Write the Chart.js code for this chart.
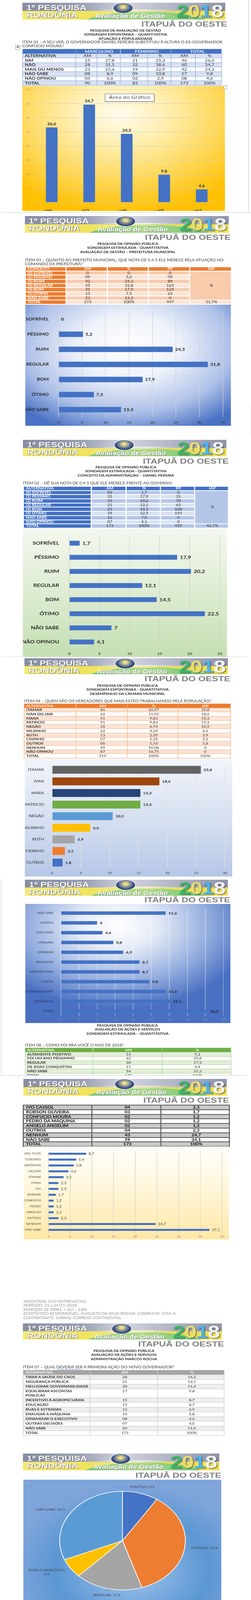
<!DOCTYPE html>
<html lang="pt-BR">
<head>
<meta charset="utf-8">
<title>1ª Pesquisa Rondônia 2018 – Itapuã do Oeste</title>
<script src="https://cdn.jsdelivr.net/npm/chart.js@4.4.1/dist/chart.umd.min.js"></script>
<style>
  html, body { margin: 0; padding: 0; background: #fff; }
  body { width: 642px; height: 4310px; overflow: hidden; position: relative; }
  #page { position: absolute; left: 0; top: 0; height: 4310px; transform-origin: 0 0;
          font-family: Lato, "Noto Sans", sans-serif; color: #262626; }
  #page > div { position: absolute; }
  .banner { overflow: hidden; }
  .banner div { position: absolute; }
  .bn-top { left: 0; right: 0; top: 0; height: 50%;
            background: linear-gradient(90deg, #868da4 0%, #9ba1b6 30%, #d3d5df 50%, #b4b8c8 72%, #8f94a9 100%); }
  .bn-bot { left: 0; right: 0; bottom: 0; height: 51%;
            background: linear-gradient(90deg, #f4ea6e 0%, #efe35c 32%, #eee78a 48%, #e8e05a 70%, #f1e152 100%); }
  .bn-hill { left: 30%; width: 62%; top: 23px; height: 60px; border-radius: 50%;
             background: radial-gradient(ellipse at 45% 20%, #b4dd8e 0%, #84c97c 45%, #62b870 100%); }
  .bn-streak { height: 2px; background: linear-gradient(90deg, rgba(255,255,255,0), #fff 35%, #fff 65%, rgba(255,255,255,0)); }
  .bn-emblem { left: calc(49.6% - 19px); top: 1px; width: 38px; height: 25px; border-radius: 50%;
               background: radial-gradient(ellipse at 50% 40%, #f5f2dc 0%, #cbbf6e 22%, #5670a8 48%, #2c3658 72%, #9097ae 100%);
               box-shadow: 0 0 2px 1px rgba(255,255,255,.8); }
  .bn-t1, .bn-t2 { left: 2%; font: bold 19px/21px "Liberation Sans", Arial, sans-serif; color: #fbfbfb;
                   text-shadow: 1px 1px 0 #666, -0.5px -0.5px 0 #888; white-space: nowrap; }
  .bn-t1 { top: 2px; }
  .bn-t2 { top: 21px; }
  .bn-t3 { left: 35.8%; top: 26px; font: bold 14.5px/16px "Liberation Sans", Arial, sans-serif; color: #fff;
           text-shadow: 1px 1px 1px #7a7a7a; white-space: nowrap; }
  .bn-year { right: 1.3%; top: 0; font: bold 44px/44px "Liberation Sans", Arial, sans-serif; letter-spacing: -1px;
             text-shadow: 2px 2px 2px rgba(50,50,50,.55); white-space: nowrap; }
  .y2 { color: #3cb868; } .y0 { color: #e6dd74; } .y1 { color: #4db3ea; } .y8 { color: #f3f3f3; }
  .city { font: bold 19px/19px "Liberation Sans", Arial, sans-serif; color: #808080; text-align: right; white-space: nowrap; }
  .title { font: bold 8px/10.5px Lato, sans-serif; color: #1a1a1a; text-align: center; white-space: nowrap; }
  .item { font: 8.6px/9.8px Lato, sans-serif; color: #333; white-space: nowrap; }
  .note { font: 8.5px/10.5px Lato, sans-serif; color: #8c8c8c; white-space: nowrap; }
  .sp { text-decoration: underline wavy #3d6fd6; text-decoration-thickness: 0.6px; text-underline-offset: 1px; }
  .tbl { border-collapse: collapse; table-layout: fixed; }
  .tbl td { padding: 0 0 0 4px; white-space: nowrap; overflow: hidden; line-height: 1; vertical-align: middle; }
  .tip { background: #fff; border: 1px solid #7f7f7f; box-shadow: 1px 1px 2px rgba(0,0,0,.35);
         font: 11.5px/16px "Open Sans", sans-serif; color: #3c3c3c; text-align: center; }
  .handle { background: #fff; border: 1px solid #9a9a9a; }
  .move { background: #fff; border: 1px solid #a0a0a0; font: 8px/9px "DejaVu Sans", sans-serif; color: #555; text-align: center; }
</style>
</head>
<body>
<div id="page"></div>
<script>
// ---------- data ----------
// ITEM 01
const item01Alternativas = ["SIM", "NÃO", "MAIS OU MENOS", "NÃO SABE", "NÃO OPINOU", "TOTAL"];
const item01MascAM = ["25", "28", "23", "08", "06", "90"];
const item01MascPct = ["27,8", "31,1", "25,6", "8,9", "6,6", "100%"];
const item01FemAM = ["21", "32", "19", "09", "02", "83"];
const item01FemPct = ["25,3", "38,6", "22,9", "10,8", "2,4", "100%"];
const item01TotAM = ["46", "60", "42", "17", "08", "173"];
const item01TotPct = ["26,6", "34,7", "24,3", "9,8", "4,6", "100%"];
const item01Values = [26.6, 34.7, 24.3, 9.8, 4.6];

// ITEM 03 - prefeito
const item03Conceitos = ["(0) SOFRÍVEL", "(1) PÉSSIMO", "(2) RUIM", "(3) REGULAR", "(4) BOM", "(5) ÓTIMO", "NÃO SABE", "TOTAL"];
const item03AM = ["0", "09", "42", "55", "31", "13", "23", "173"];
const item03Pct = ["0", "5,2", "24,3", "31,8", "17,9", "7,5", "13,3", "100%"];
const item03PP = ["0", "09", "84", "165", "124", "65", "0", "447"];
const item03IAP = "51,7%";
const item03Labels = ["SOFRÍVEL", "PÉSSIMO", "RUIM", "REGULAR", "BOM", "ÓTIMO", "NÃO SABE"];
const item03Values = [0, 5.2, 24.3, 31.8, 17.9, 7.5, 13.3];

// ITEM 02 - governo
const item02Alternativas = ["(0) SOFRÍVEL", "(1) PÉSSIMO", "(2) RUIM", "(3) REGULAR", "(4) BOM", "(5) ÓTIMO", "NÃO SABE", "NÃO OPINOU", "TOTAL"];
const item02AM = ["03", "31", "35", "21", "25", "39", "12", "07", "173"];
const item02Pct = ["1,7", "17,9", "20,2", "12,1", "14,5", "22,5", "7,0", "4,1", "100%"];
const item02PP = ["0", "31", "70", "63", "100", "195", "0", "0", "459"];
const item02IAP = "42,7%";
const item02Labels = ["SOFRÍVEL", "PÉSSIMO", "RUIM", "REGULAR", "BOM", "ÓTIMO", "NÃO SABE", "NÃO OPINOU"];
const item02Values = [1.7, 17.9, 20.2, 12.1, 14.5, 22.5, 7, 4.1];

// ITEM 04 - vereadores
const item04Alternativas = ["ITAMAR", "IVAN DO JAIR", "MARA", "PATRICIO", "NEGÃO", "NILSINHO", "RUTH", "CIDINHO", "OUTROS", "NENHUM", "NÃO OPINOU", "TOTAL"];
const item04AM = ["86", "62", "51", "51", "35", "22", "13", "07", "06", "99", "87", "519"];
const item04Pct = ["16,57", "11,95", "9,83", "9,83", "6,74", "4,24", "2,50", "1,35", "1,16", "19,08", "16,75", "100%"];
const item04IAP = ["25,8", "18,6", "15,3", "15,3", "10,5", "6,6", "3,9", "2,2", "1,8", "0", "0", "100%"];
const item04Labels = ["ITAMAR", "IVAN", "MARA", "PATRICIO", "NEGÃO", "NILSINHO", "RUTH", "CIDINHO", "OUTROS"];
const item04Values = [25.8, 18.6, 15.3, 15.3, 10.5, 6.6, 3.9, 2.2, 1.8];

// primeira ação (gráfico)
const acoesLabels = ["NÃO SABE", "OUTROS", "EXECUTIVO", "MÁQUINA", "ESTRADAS", "EDUCAÇÃO", "AGROPECUÁRIA", "CONTAS", "GOVERNABILIDADE", "SEGURANÇA", "SAÚDE"];
const acoesValues = [11.6, 4, 4.6, 5.8, 6.9, 8.7, 8.7, 9.8, 11.6, 12.1, 16.2];

// ITEM 08 - ano de 2018
const item08Alternativas = ["ALTAMENTE POSITIVO", "FOI UM ANO PÉSSIMMO", "REGULAR", "DE BOAS CONQUISTAS", "NÃO SABE", "TOTAL"];
const item08AM = ["16", "62", "30", "11", "54", "173"];
const item08Pct = ["9,2", "35,8", "17,3", "6,4", "31,3", "100%"];

// candidatos (continuação)
const candAlternativas = ["IVO CASSOL", "ROBSON OLIVEIRA", "CONFÚCIO MOURA", "PEDRO DA MÁQUINA", "ANGELO ANGELIM", "OUTROS", "NENHUM", "NÃO SABE", "TOTAL"];
const candAM = ["04", "03", "02", "02", "02", "04", "43", "59", "173"];
const candPct = ["2,3", "1,7", "1,2", "1,2", "1,2", "2,3", "24,7", "34,1", "100%"];

// políticos (gráfico)
const politicosLabels = ["JOÃO TESTA", "TEIXEIRÃO", "JERÔNIMO", "HELENA", "ITAMAR", "PIANA", "IVO", "ROBSON", "CONFÚCIO", "PEDRO", "ANGELIM", "OUTROS", "NENHUM", "NÃO SABE"];
const politicosValues = [8.7, 6.4, 5.8, 4.6, 3.5, 2.3, 2.3, 1.7, 1.2, 1.2, 1.2, 2.3, 24.7, 37.1];

// ITEM 07
const item07Alternativas = ["TIRAR A SAÚDE DO CAOS", "SEGURANÇA PÚBLICA", "MELHORAR GOVERNABILIDADE", "EQUILIBRAR ASCONTAS PÚBLICAS", "INCENTIVO À AGROPECUÁRIA", "EDUCAÇÃO", "RUAS E ESTRADAS", "ENXUGAR A MÁQUINA", "DINAMIZAR O EXECUTIVO", "OUTRAS DECISÕES", "NÃO SABE", "TOTAL"];
const item07AM = ["28", "21", "20", "17", "15", "15", "12", "10", "08", "07", "20", "173"];
const item07Pct = ["16,2", "12,1", "11,6", "9,8", "8,7", "8,7", "6,9", "5,8", "4,6", "4,0", "11,6", "100%"];

// pizza - ano de 2018
const anoLabels = ["POSITIVO", "PÉSSIMO", "REGULAR", "BOAS CONQUISTAS", "NÃO SABE"];
const anoValues = [9.2, 35.8, 17.3, 6.4, 31.3];

// ITEM 09
const item09Alternativas = ["JOÃO TESTA", "TEIXEIRÃO", "JERÖNIMO", "Dra. HELENA", "ITAMAR", "PIANA"];
const item09AM = ["15", "11", "10", "08", "06", "04"];
const item09Pct = ["8,7", "6,4", "5,8", "4,6", "3,5", "2,3"];

const notas = ["AMOSTRAS: (519 ENTREVISTAS)", "PERÍODO: 23 a 24/11/2018", "MARGEM DE ERRO: + OU – 2,8%",
  "ESTATÍSTICO RESPONSÁVEL: AUGUSTO DA SILVA ROCHA, CONRE1 Nº 7655-A", "CONTRATANTE: JORNAL CORREIO CONTINENTAL"];

// palettes
const vereadorColors = ["#636363", "#9E480E", "#264478", "#70AD47", "#5B9BD5", "#FFC000", "#A5A5A5", "#ED7D31", "#4472C4"];
const anoColors = ["#4472C4", "#ED7D31", "#A5A5A5", "#FFC000", "#5B9BD5"];

// ---------- page helpers ----------
// the reference page is stretched sideways, so the page is laid out narrower and scaled back out
const SX = 1.27;
const page = document.getElementById('page');
page.style.width = (642 / SX) + 'px';
page.style.transform = 'scaleX(' + SX + ')';

function div(cls, html) {
  const d = document.createElement('div');
  if (cls) d.className = cls;
  if (html != null) d.innerHTML = html;
  return d;
}
function put(el, x, y, w, h) {
  el.style.left = (x / SX) + 'px';
  el.style.top = y + 'px';
  if (w != null) el.style.width = (w / SX) + 'px';
  if (h != null) el.style.height = h + 'px';
  page.appendChild(el);
  return el;
}
function banner(x, y, w, h) {
  put(div('banner',
    '<div class="bn-top"></div><div class="bn-bot"></div><div class="bn-hill"></div>' +
    '<div class="bn-streak" style="left:37%;width:38%;top:18px"></div>' +
    '<div class="bn-streak" style="left:44%;width:24%;top:23px;height:1px"></div>' +
    '<div class="bn-emblem"></div>' +
    '<div class="bn-t1">1ª PESQUISA</div><div class="bn-t2">RONDÔNIA</div>' +
    '<div class="bn-t3">Avaliação de Gestão</div>' +
    '<div class="bn-year"><span class="y2">2</span><span class="y0">0</span><span class="y1">1</span><span class="y8">8</span></div>'),
    x, y, w, h || 43);
}
function city(right, cy) { put(div('city', 'ITAPUÃ DO OESTE'), right - 300, cy - 9.3, 300); }
function titles(cx, cy, lines) { put(div('title', lines.join('<br>')), cx - 250, cy - 5.25, 500); }
function item(x, cy, html, lh) {
  const d = put(div('item', html), x, cy - (lh || 9.8) / 2);
  if (lh) d.style.lineHeight = lh + 'px';
}
function line(x, y, w, h, color) { const d = div(); d.style.background = color; put(d, x, y, w, h); }

function cell(t, bg, extra) { return Object.assign({ t: t, bg: bg }, extra || {}); }
function table(x, y, widths, rows, o) {
  const total = widths.reduce((a, b) => a + b, 0);
  let html = '<table class="tbl" style="width:' + (total / SX) + 'px;font-size:' + o.font + 'px">';
  html += '<colgroup>' + widths.map(w => '<col style="width:' + (w / SX) + 'px">').join('') + '</colgroup>';
  rows.forEach(r => {
    html += '<tr style="height:' + r.h + 'px">';
    r.cells.forEach(c => {
      html += '<td' + (c.cs ? ' colspan="' + c.cs + '"' : '') + (c.rs ? ' rowspan="' + c.rs + '"' : '') +
        ' style="background:' + (c.bg || 'transparent') + ';color:' + (c.c || o.color || '#262626') +
        ';font-weight:' + (c.b ? 700 : 400) + ';text-align:' + (c.a || 'center') + ';border:' + o.border +
        (o.cellStyle ? ';' + o.cellStyle : '') + (c.st ? ';' + c.st : '') + '">' + c.t + '</td>';
    });
    html += '</tr>';
  });
  html += '</table>';
  return put(div(null, html), x, y);
}

// ---------- chart helpers ----------
Chart.defaults.font.family = 'Lato, "Noto Sans", sans-serif';

const valueLabels = {
  id: 'valueLabels',
  afterDatasetsDraw(chart, args, o) {
    const ctx = chart.ctx;
    const horizontal = chart.options.indexAxis === 'y';
    const values = chart.data.datasets[0].data;
    ctx.save();
    ctx.font = o.font;
    ctx.fillStyle = o.color;
    ctx.textAlign = horizontal ? 'left' : 'center';
    ctx.textBaseline = horizontal ? 'middle' : 'bottom';
    chart.getDatasetMeta(0).data.forEach((bar, i) => {
      const txt = String(values[i]).replace('.', ',');
      if (horizontal) ctx.fillText(txt, bar.x + o.offset, bar.y + 0.5);
      else ctx.fillText(txt, bar.x, bar.y - o.offset);
    });
    ctx.restore();
  }
};

function chartBox(x, y, w, h, bg) {
  const wrap = put(div('chart'), x, y, w, h);
  wrap.style.background = bg;
  const canvas = document.createElement('canvas');
  wrap.appendChild(canvas);
  return canvas;
}

function hbar(box, labels, values, s) {
  const canvas = chartBox(box.x, box.y, box.w, box.h, box.bg);
  return new Chart(canvas, {
    type: 'bar',
    data: {
      labels: labels,
      datasets: [{ data: values, backgroundColor: s.colors || '#4472C4', barPercentage: s.bar, categoryPercentage: 1 }]
    },
    options: {
      indexAxis: 'y',
      responsive: true,
      maintainAspectRatio: false,
      animation: false,
      devicePixelRatio: 2,
      layout: { padding: { left: 0, top: s.top, right: (box.w - s.plotR) / SX, bottom: 0 } },
      plugins: {
        legend: { display: false },
        tooltip: { enabled: false },
        valueLabels: { font: s.valueFont, color: s.valueColor || '#262626', offset: s.valueOffset / SX }
      },
      scales: {
        x: {
          min: 0, max: s.max,
          ticks: { stepSize: s.step, font: s.tickFont, color: s.tickColor, padding: s.tickPad },
          grid: { color: s.gridColor, drawTicks: false },
          border: { display: false },
          afterFit: sc => { sc.height = box.h - s.bottom; }
        },
        y: {
          ticks: { font: s.catFont, color: s.catColor, padding: s.catPad / SX },
          grid: { display: false },
          border: { display: false },
          afterFit: sc => { sc.width = s.plotL / SX; }
        }
      }
    },
    plugins: [valueLabels]
  });
}

const pieLabels = {
  id: 'pieLabels',
  afterDatasetsDraw(chart, args, o) {
    const ctx = chart.ctx;
    const values = chart.data.datasets[0].data;
    const names = chart.data.labels;
    ctx.save();
    ctx.font = o.font;
    ctx.fillStyle = o.color;
    ctx.strokeStyle = o.lineColor;
    ctx.lineWidth = 0.8;
    ctx.textAlign = 'center';
    ctx.textBaseline = 'middle';
    chart.getDatasetMeta(0).data.forEach((arc, i) => {
      const mid = (arc.startAngle + arc.endAngle) / 2;
      const dx = Math.cos(mid), dy = Math.sin(mid);
      const r = arc.outerRadius;
      ctx.beginPath();
      ctx.moveTo(arc.x + dx * (r + 1), arc.y + dy * (r + 1));
      ctx.lineTo(arc.x + dx * (r + 9), arc.y + dy * (r + 9));
      ctx.stroke();
      const val = String(values[i]).replace('.', ',');
      let lines = [names[i] + '; ' + val];
      if (ctx.measureText(lines[0]).width > o.maxWidth) lines = [names[i] + ';', val];
      const w = Math.max(...lines.map(l => ctx.measureText(l).width));
      const ax = arc.x + dx * (r + 13), ay = arc.y + dy * (r + 13);
      const left = Math.abs(dx) < 0.3 ? ax - w / 2 : (dx > 0 ? ax : ax - w);
      const top = ay - lines.length * o.lineHeight / 2 + dy * 4;
      lines.forEach((l, k) => ctx.fillText(l, left + w / 2, top + o.lineHeight * (k + 0.5)));
    });
    ctx.restore();
  }
};

// ---------- section 1: ITEM 01 ----------
const BLUE = '#4472C4', BLUE_L = '#D9E2F3', BLUE_M = '#B4C6E7';
const ORANGE = '#ED7D31', PEACH = '#F8CBAD', PEACH_L = '#FBE4D5';
const HEAD = { c: '#fff', b: 1 }, HEAD_L = { c: '#fff', b: 1, a: 'left' }, FIRST = { b: 1, a: 'left' };
const PCT_STYLE = 'font:52px/1 "Liberation Sans",Arial,sans-serif;color:#000;padding:0';

line(635, 0, 1, 543, '#cfcfcf');
line(4, 543, 638, 1, '#cfcfcf');
banner(57, 7, 520);
city(581, 61.5);
titles(321, 78, ['PESQUISA DE AVALIAÇÃO DE GESTÃO', 'SONDAGEM ESPONTÂNEA – QUANTITATIVA', 'ATUAÇÃO E POPULARIDADE']);
item(57, 109, 'ITEM 01 – A SEU VER, O GOVERNADOR DANIEL PEREIRA SUBSTITUIU À ALTURA O EX-GOVERNADOR<br>CONFÚCIO MOURA?', 9.5);
put(div('move', '✥'), 39, 115, 11, 10);

const t1 = [
  { h: 11.6, cells: [cell('', BLUE), cell('MASCULINO', BLUE, Object.assign({ cs: 2 }, HEAD)),
    cell('FEMININO', BLUE, Object.assign({ cs: 2 }, HEAD)), cell('TOTAL', BLUE, Object.assign({ cs: 2 }, HEAD))] },
  { h: 11.6, cells: [cell('ALTERNATIVA', BLUE_L, FIRST)].concat(['AM', '%', 'AM', '%', 'AM', '%'].map(t => cell(t, BLUE_L))) }
].concat(item01Alternativas.map((alt, i) => {
  const bg = i % 2 ? BLUE_L : '#fff';
  return { h: 11.6, cells: [cell(alt, bg, FIRST)].concat(
    [item01MascAM[i], item01MascPct[i], item01FemAM[i], item01FemPct[i], item01TotAM[i], item01TotPct[i]].map(t => cell(t, bg))) };
}));
table(57, 125, [136, 55, 60, 69, 60, 62, 68], t1, { font: 9.6, border: '1px solid #8EAADB' });

const c1 = chartBox(57, 220, 518, 320,
  'radial-gradient(ellipse 75% 80% at 48% 22%, #fffcee 0%, #ffefb3 30%, #ffd95c 65%, #ffc000 100%)');
new Chart(c1, {
  type: 'bar',
  data: { labels: item01Alternativas.slice(0, 5), datasets: [{ data: item01Values, backgroundColor: BLUE, barPercentage: 0.31, categoryPercentage: 1 }] },
  options: {
    responsive: true, maintainAspectRatio: false, animation: false, devicePixelRatio: 2,
    layout: { padding: { left: 0, top: 8, right: (518 - 506) / SX, bottom: 0 } },
    plugins: { legend: { display: false }, tooltip: { enabled: false },
      valueLabels: { font: 'bold 9px Lato', color: '#262626', offset: 4 } },
    scales: {
      x: { ticks: { font: { size: 9.5, weight: 'bold' }, color: '#262626', padding: 7 },
           grid: { display: false }, border: { display: false },
           afterFit: sc => { sc.height = 320 - 298; } },
      y: { min: 0, max: 40, ticks: { stepSize: 5, font: { size: 6 }, color: '#8c8c8c', padding: 6 },
           grid: { color: 'rgba(205,205,205,0.85)', drawTicks: false }, border: { display: false },
           afterFit: sc => { sc.width = 27 / SX; } }
    }
  },
  plugins: [valueLabels]
});
put(div('tip', 'Área do Gráfico'), 268, 240, 125, 18);
put(div('handle'), 571, 219, 7, 7);

// ---------- section 2: ITEM 03 ----------
banner(63, 553, 522);
city(590, 607.5);
titles(327, 624, ['PESQUISA DE OPINIÃO PÚBLICA', 'SONDAGEM ESTIMULADA - QUANTITATIVA', 'AVALIAÇÃO DE GESTÃO – PREFEITURA MUNICIPAL']);
item(64, 666, 'ITEM 03 – QUANTO AO PREFEITO MUNICIPAL, QUE NOTA DE 0 A 5 ELE MERECE PELA ATUAÇÃO NO<br>COMANDO DA PREFEITURA?', 10);

const t2 = [{ h: 10.67, cells: [cell('CONCEITO', ORANGE, HEAD_L)].concat(['AM', '%', 'PP', 'IAP'].map(t => cell(t, ORANGE, HEAD))) }]
  .concat(item03Conceitos.map((k, i) => {
    const bg = i % 2 ? PEACH_L : PEACH;
    const cells = [cell(k, ORANGE, HEAD_L), cell(item03AM[i], bg), cell(item03Pct[i], bg), cell(item03PP[i], bg)];
    if (i === 0) cells.push(cell('%', PEACH, { rs: item03Conceitos.length - 1, st: PCT_STYLE }));
    if (i === item03Conceitos.length - 1) cells.push(cell(item03IAP, PEACH_L));
    return { h: 10.67, cells: cells };
  }));
table(63, 682, [105, 105, 106, 105, 106], t2, { font: 8.6, border: '2px solid #fff' });

hbar({ x: 65, y: 780, w: 525, h: 310,
       bg: 'radial-gradient(ellipse 70% 75% at 50% 35%, #ffffff 0%, #eef2fa 35%, #adc0e8 72%, #4a72c4 100%)' },
  item03Labels, item03Values,
  { plotL: 85, plotR: 504, top: 8, bottom: 288, max: 35, step: 5, bar: 0.36,
    catFont: { size: 10, weight: 'bold' }, catColor: '#262626', catPad: 15,
    tickFont: { size: 8, weight: 'bold' }, tickColor: '#404040', tickPad: 9,
    gridColor: 'rgba(210,210,210,0.9)', valueFont: 'bold 10px Lato', valueOffset: 6 });

// ---------- section 3: ITEM 02 ----------
line(641, 1040, 1, 78, '#d8d8d8');
banner(59, 1126, 520, 42);
city(585, 1180);
titles(322, 1196, ['PESQUISA DE OPINIÃO PÚBLICA', 'SONDAGEM ESTIMULADA - QUANTITATIVA', 'CONCEITO DA ADMINISTRAÇÃO – DANIEL PEREIRA']);
item(59, 1238, 'ITEM 02 – DÊ SUA NOTA DE 0 A 5 QUE ELE MERECE FRENTE AO GOVERNO:');

const t3 = [{ h: 10.7, cells: [cell('ALTERNATIVA', BLUE, HEAD_L)].concat(['AM', '%', 'PP', 'IAP'].map(t => cell(t, BLUE, HEAD))) }]
  .concat(item02Alternativas.map((k, i) => {
    const bg = i % 2 ? BLUE_L : BLUE_M;
    const cells = [cell(k, BLUE, HEAD_L), cell(item02AM[i], bg), cell(item02Pct[i], bg), cell(item02PP[i], bg)];
    if (i === 0) cells.push(cell('%', BLUE_M, { rs: item02Alternativas.length - 1, st: PCT_STYLE }));
    if (i === item02Alternativas.length - 1) cells.push(cell(item02IAP, BLUE_M));
    return { h: 10.7, cells: cells };
  }));
table(59, 1244, [174, 88, 88, 87, 87], t3, { font: 8.5, border: '2px solid #fff' });

hbar({ x: 59, y: 1353, w: 522, h: 328, bg: 'linear-gradient(180deg, #f4f8ef 0%, #deecd2 50%, #c4dfb2 100%)' },
  item02Labels, item02Values,
  { plotL: 119, plotR: 504, top: 7, bottom: 311, max: 25, step: 5, bar: 0.34,
    catFont: { size: 11.5, weight: 'bold' }, catColor: '#262626', catPad: 16,
    tickFont: { size: 8.5, weight: 'bold' }, tickColor: '#404040', tickPad: 7,
    gridColor: 'rgba(205,205,205,0.9)', valueFont: 'bold 11.5px Lato', valueOffset: 7 });

// ---------- section 4: ITEM 04 ----------
line(4, 1681, 634, 1, '#d8d8d8');
banner(62, 1685, 521, 41);
city(589, 1737.5);
titles(326, 1755, ['PESQUISA DE OPINIÃO PÚBLICA', 'SONDAGEM ESPONTÂNEA - QUANTITATIVA', 'DESEMPENHO DA CÂMARA MUNICIPAL']);
item(62, 1796, 'ITEM 04 – QUEM SÃO OS VEREADORES QUE MAIS ESTÃO TRABALHANDO PELA POPULAÇÃO?');

const t4 = [{ h: 10.7, cells: [cell('ALTERNATIVA', ORANGE, HEAD_L)].concat(['AM', '%', 'IAP'].map(t => cell(t, ORANGE, HEAD))) }]
  .concat(item04Alternativas.map((a, i) => {
    const bg = i % 2 ? '#fff' : PEACH_L;
    return { h: 10.7, cells: [cell(a, bg, FIRST), cell(item04AM[i], bg), cell(item04Pct[i], bg), cell(item04IAP[i], bg)] };
  }));
table(61, 1801, [133, 131, 130, 134], t4, { font: 8.3, border: '1px solid #F4B183' });

hbar({ x: 63, y: 1942, w: 531, h: 302, bg: 'linear-gradient(180deg, #f1f4fa 0%, #d4def0 55%, #b5c7e7 100%)' },
  item04Labels, item04Values,
  { plotL: 70, plotR: 512, top: 8, bottom: 281, max: 30, step: 5, bar: 0.68, colors: vereadorColors,
    catFont: { size: 8.7 }, catColor: '#262626', catPad: 11,
    tickFont: { size: 8 }, tickColor: '#404040', tickPad: 7,
    gridColor: 'rgba(225,225,225,0.95)', valueFont: 'bold 8.7px Lato', valueOffset: 7 });

// ---------- section 5: primeira ação + ITEM 08 ----------
line(3, 2251, 1, 502, '#cfcfcf');
banner(64, 2252, 519, 41);
city(589, 2303);

hbar({ x: 65, y: 2314, w: 524, h: 305,
       bg: 'radial-gradient(ellipse 65% 70% at 45% 18%, #ffffff 0%, #e4eaf6 30%, #95aedf 68%, #4a70c2 100%)' },
  acoesLabels, acoesValues,
  { plotL: 91, plotR: 506, top: 8, bottom: 287, max: 18, step: 2, bar: 0.35,
    catFont: { size: 6.4 }, catColor: '#1f2d4d', catPad: 9,
    tickFont: { size: 6 }, tickColor: '#8fa8d8', tickPad: 5,
    gridColor: 'rgba(255,255,255,0.55)', valueFont: 'bold 8.8px Lato', valueColor: '#1a1a1a', valueOffset: 7 });

titles(326, 2625, ['PESQUISA DE OPINIÃO PÚBLICA', 'AVALIAÇÃO DE AÇÕES E SERVIÇOS', 'SONDAGEM ESTIMULADA – QUANTITATIVA']);
item(64, 2677, 'ITEM 08 – COMO FOI PRA VOCÊ O ANO DE 2018?');

const GREEN = '#70AD47', GREEN_L = '#E2EFD9';
const t5 = [{ h: 10.85, cells: [cell('ALTERNATIVA', GREEN, HEAD_L), cell('AM', GREEN, HEAD), cell('%', GREEN, HEAD)] }]
  .concat(item08Alternativas.map((a, i) => {
    const bg = i % 2 ? '#fff' : GREEN_L;
    return { h: 10.85, cells: [cell(a, bg, FIRST), cell(item08AM[i], bg), cell(item08Pct[i], bg)] };
  }));
const t5box = table(63, 2682, [174, 177, 176], t5, { font: 8.3, border: '1px solid #A8D08D' });
t5box.style.height = '71px';
t5box.style.overflow = 'hidden';

// ---------- section 6: candidatos + políticos ----------
line(3, 2753, 628, 1, '#cfcfcf');
banner(60, 2762, 521);
city(586, 2816.5);

const t6 = candAlternativas.map((a, i) => {
  const bg = i % 2 ? '#fff' : '#C9C9C9';
  return { h: 11.8, cells: [cell(a, bg, FIRST), cell(candAM[i], bg, { b: 1 }), cell(candPct[i], bg, { b: 1 })] };
});
table(59, 2828, [175, 176, 176], t6, { font: 9.7, border: '2px solid #595959', color: '#000' });

hbar({ x: 61, y: 2935, w: 525, h: 238, bg: 'linear-gradient(180deg, #fffefa 0%, #fff6da 45%, #ffe8a6 100%)' },
  politicosLabels, politicosValues,
  { plotL: 63, plotR: 507, top: 7, bottom: 221, max: 40, step: 5, bar: 0.34,
    catFont: { size: 6.6 }, catColor: '#404040', catPad: 9,
    tickFont: { size: 6.5 }, tickColor: '#7f7f7f', tickPad: 6,
    gridColor: 'rgba(205,205,205,0.85)', valueFont: '8.2px Lato', valueColor: '#404040', valueOffset: 6 });

put(div('note', notas.join('<br>')), 60, 3332 - 5.25);

// ---------- section 7: ITEM 07 ----------
banner(59, 3388, 509, 41);
city(573, 3440.5);
titles(317, 3458, ['PESQUISA DE OPINIÃO PÚBLICA', 'AVALIAÇÃO DE AÇÕES E SERVIÇOS', 'ADMINISTRAÇÃO MARCOS ROCHA']);
item(59, 3501, 'ITEM 07 – QUAL <span class="sp">DEVERIA SER</span> A PRIMEIRA AÇÃO DO NOVO GOVERNADOR?');

const GRAY = '#A5A5A5', GRAY_L = '#EDEDED';
const t7 = [{ h: 11, cells: [cell('ALTERNATIVA', GRAY, HEAD_L), cell('AM', GRAY, HEAD), cell('%', GRAY, HEAD)] }]
  .concat(item07Alternativas.map((a, i) => {
    const bg = i % 2 ? '#fff' : GRAY_L;
    const wrapRow = a.length > 26;
    return { h: wrapRow ? 22 : 11, cells: [cell(a, bg, Object.assign({ st: wrapRow ? 'white-space:normal' : '' }, FIRST)),
      cell(item07AM[i], bg), cell(item07Pct[i], bg)] };
  }));
table(59, 3507, [171, 172, 171], t7, { font: 8.3, border: '1px solid #C9C9C9', cellStyle: 'vertical-align:top;line-height:11px' });

// ---------- section 8: pizza + ITEM 09 ----------
banner(59, 3721, 502);
city(566, 3776.5);

const cPie = chartBox(60, 3788, 506, 311,
  'radial-gradient(ellipse 60% 70% at 55% 75%, #a3c8ec 0%, #75a8dd 40%, #5b97d4 65%, #7ea4da 100%)');
new Chart(cPie, {
  type: 'pie',
  data: { labels: anoLabels, datasets: [{ data: anoValues, backgroundColor: anoColors, borderColor: '#fff', borderWidth: 1.5 }] },
  options: {
    responsive: true, maintainAspectRatio: false, animation: false, devicePixelRatio: 2,
    layout: { padding: { top: 29, bottom: 28, left: 0, right: 0 } },
    plugins: { legend: { display: false }, tooltip: { enabled: false },
      pieLabels: { font: '7.8px Lato', color: '#404040', lineColor: '#8c8c8c', maxWidth: 65, lineHeight: 10 } }
  },
  plugins: [pieLabels]
});

titles(313, 4160, ['PESQUISA DE OPINIÃO PÚBLICA', 'AVALIAÇÃO DE AÇÕES E SERVIÇOS', 'SONDAGEM ESPONTÂNEA - QUANTITATIVA']);
item(59, 4203, 'ITEM 09 – QUAL FOI O POLÍTICO QUE MAIS FEZ PELO MUNICÍPIO?');

const t8 = [{ h: 12.1, cells: [cell('ALTERNATIVA', '#000', HEAD_L), cell('AM', '#000', HEAD), cell('%', '#000', HEAD)] }]
  .concat(item09Alternativas.map((a, i) => {
    const bg = i % 2 ? '#fff' : '#BFBFBF';
    return { h: 12.1, cells: [cell(a, bg, FIRST), cell(item09AM[i], bg), cell(item09Pct[i], bg)] };
  }));
table(59, 4208, [168, 170, 169], t8, { font: 9, border: '2px solid #3a3a3a', color: '#000' });

put(div('note', notas[0]), 60, 4302);
</script>
</body>
</html>
